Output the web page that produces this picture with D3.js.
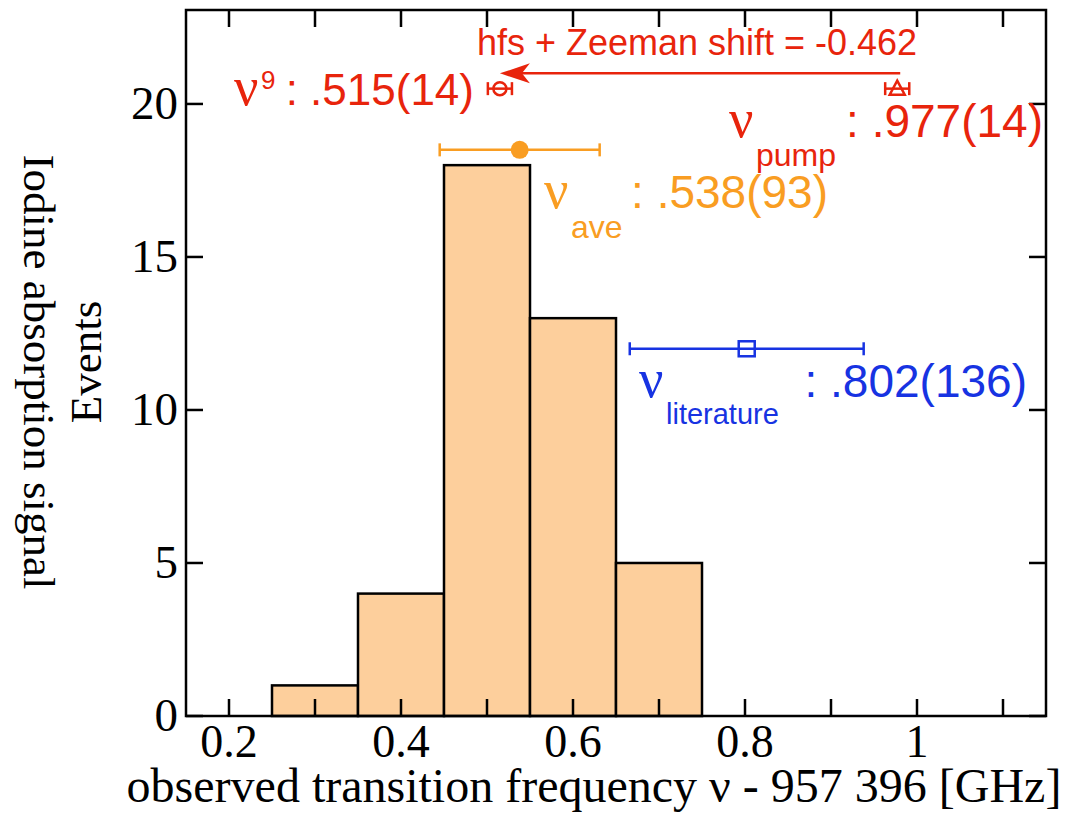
<!DOCTYPE html>
<html>
<head>
<meta charset="utf-8">
<script src="https://cdn.jsdelivr.net/npm/d3@7"></script>
<style>
  body { margin: 0; background: #fff; }
  svg text { font-family: "Liberation Sans", Arial, sans-serif; }
  .serif { font-family: "Liberation Serif", "Times New Roman", serif !important; }
</style>
</head>
<body>
<svg id="chart" width="1072" height="816"></svg>
<script>
// histogram of observed frequencies
var binEdges = [0.25, 0.35, 0.45, 0.55, 0.65, 0.75]
var counts = [1, 4, 18, 13, 5]

// reference points (value, error, drawn height)
var pointNames = ["nu9", "pump", "ave", "literature"]
var pointX = [0.515, 0.977, 0.538, 0.802]
var pointErr = [0.014, 0.014, 0.093, 0.136]
var pointY = [20.5, 20.5, 18.5, 12]

var xTicks = [0.2, 0.3, 0.4, 0.5, 0.6, 0.7, 0.8, 0.9, 1.0, 1.1]
var xTickLabels = ["0.2", "0.4", "0.6", "0.8", "1"]
var xLabelValues = [0.2, 0.4, 0.6, 0.8, 1.0]
var yTicks = [0, 5, 10, 15, 20]

var shiftFrom = 0.977, shiftTo = 0.515, shiftY = 21

var red = "#e8240c", orange = "#f99d22", blue = "#1733e2"

var svg = d3.select("#chart")
// plot box (note: "top" is reserved on window, so use m*)
var mLeft = 186, mRight = 1046, mTop = 10, mBottom = 716

var x = d3.scaleLinear().domain([0.15, 1.15]).range([mLeft, mRight])
var y = d3.scaleLinear().domain([0, 23.07]).range([mBottom, mTop])

// bars
var bins = counts.map(function(c, i) { return {x0: binEdges[i], x1: binEdges[i+1], n: c} })
svg.selectAll("rect.bar")
    .data(bins).enter()
    .append("rect")
        .attr("class", "bar")
        .attr("x", function(d){ return x(d.x0) })
        .attr("y", function(d){ return y(d.n) })
        .attr("width", function(d){ return x(d.x1) - x(d.x0) })
        .attr("height", function(d){ return y(0) - y(d.n) })
        .style("fill", "#fdcf9c")
        .style("stroke", "#000")
        .style("stroke-width", 2.5)

// frame
svg.append("rect")
    .attr("x", mLeft).attr("y", mTop)
    .attr("width", mRight - mLeft).attr("height", mBottom - mTop)
    .style("fill", "none").style("stroke", "#000").style("stroke-width", 2.5)

var tickLen = 17
// x ticks bottom + top (inward)
xTicks.forEach(function(t) {
    svg.append("line").attr("x1", x(t)).attr("x2", x(t)).attr("y1", mBottom).attr("y2", mBottom - tickLen)
        .style("stroke", "#000").style("stroke-width", 2.5)
    svg.append("line").attr("x1", x(t)).attr("x2", x(t)).attr("y1", mTop).attr("y2", mTop + tickLen)
        .style("stroke", "#000").style("stroke-width", 2.5)
})
yTicks.forEach(function(t) {
    svg.append("line").attr("x1", mLeft).attr("x2", mLeft + tickLen).attr("y1", y(t)).attr("y2", y(t))
        .style("stroke", "#000").style("stroke-width", 2.5)
    svg.append("line").attr("x1", mRight).attr("x2", mRight - tickLen).attr("y1", y(t)).attr("y2", y(t))
        .style("stroke", "#000").style("stroke-width", 2.5)
})

svg.selectAll("text.xt")
    .data(xLabelValues).enter()
    .append("text")
        .attr("class", "serif")
        .attr("x", function(d){ return x(d) })
        .attr("y", 757)
        .attr("text-anchor", "middle")
        .style("font-size", "46px")
        .text(function(d, i){ return xTickLabels[i] })

svg.selectAll("text.yt")
    .data(yTicks).enter()
    .append("text")
        .attr("class", "serif")
        .attr("x", 178)
        .attr("y", function(d){ return y(d) + 15 })
        .attr("text-anchor", "end")
        .style("font-size", "47px")
        .text(function(d){ return d })

// axis titles
svg.append("text").attr("class", "serif")
    .attr("x", 594).attr("y", 802).attr("text-anchor", "middle")
    .style("font-size", "48px")
    .text("observed transition frequency \u03bd - 957 396 [GHz]")

svg.append("text").attr("class", "serif")
    .attr("transform", "translate(101,362) rotate(-90)")
    .attr("text-anchor", "middle")
    .style("font-size", "45px")
    .text("Events")

svg.append("text").attr("class", "serif")
    .attr("transform", "translate(24,372) rotate(90)")
    .attr("text-anchor", "middle")
    .style("font-size", "45px")
    .text("Iodine absorption signal")

// error bars
function errBar(i, color, capH) {
    var cy = y(pointY[i])
    var x0 = x(pointX[i] - pointErr[i]), x1 = x(pointX[i] + pointErr[i])
    svg.append("line").attr("x1", x0).attr("x2", x1).attr("y1", cy).attr("y2", cy)
        .style("stroke", color).style("stroke-width", 2.5)
    ;[x0, x1].forEach(function(cx) {
        svg.append("line").attr("x1", cx).attr("x2", cx).attr("y1", cy - capH/2).attr("y2", cy + capH/2)
            .style("stroke", color).style("stroke-width", 2.5)
    })
}

errBar(0, red, 13)
svg.append("circle").attr("cx", x(pointX[0])).attr("cy", y(pointY[0])).attr("r", 6.5)
    .style("fill", "none").style("stroke", red).style("stroke-width", 2.5)

errBar(1, red, 13)
var tx = x(pointX[1]), ty = y(pointY[1])
svg.append("path")
    .attr("d", "M" + tx + "," + (ty - 8) + "L" + (tx + 7.5) + "," + (ty + 6) + "L" + (tx - 7.5) + "," + (ty + 6) + "Z")
    .style("fill", "none").style("stroke", red).style("stroke-width", 2.5)

errBar(2, orange, 13)
svg.append("circle").attr("cx", x(pointX[2])).attr("cy", y(pointY[2])).attr("r", 9)
    .style("fill", orange)

errBar(3, blue, 13)
svg.append("rect").attr("x", x(pointX[3]) - 8).attr("y", y(pointY[3]) - 7.5)
    .attr("width", 16).attr("height", 15)
    .style("fill", "none").style("stroke", blue).style("stroke-width", 2.5)

// shift arrow
var ay = y(shiftY), ax0 = x(shiftFrom) + 3, ax1 = x(shiftTo)
svg.append("line").attr("x1", ax0).attr("x2", ax1 + 20).attr("y1", ay).attr("y2", ay)
    .style("stroke", red).style("stroke-width", 2.5)
svg.append("path")
    .attr("d", "M" + ax1 + "," + ay + "L" + (ax1 + 30) + "," + (ay - 10) + "L" + (ax1 + 22) + "," + ay +
              "L" + (ax1 + 30) + "," + (ay + 10) + "Z")
    .style("fill", red)
svg.append("text").attr("x", 697).attr("y", 55).attr("text-anchor", "middle")
    .style("font-size", "36px").style("fill", red)
    .text("hfs + Zeeman shift = -0.462")

// value labels
function nuLabel(nx, base, sub, subDy, subSize, value, valueEnd, color, size, superscript) {
    svg.append("text").attr("class", "serif").attr("x", nx).attr("y", base)
        .style("font-size", "54px").style("fill", color).text("\u03bd")
    if (superscript) {
        svg.append("text").attr("x", nx + 27).attr("y", base - 16)
            .style("font-size", "26px").style("fill", color).text(sub)
    } else {
        svg.append("text").attr("x", nx + 27).attr("y", base + subDy)
            .style("font-size", subSize + "px").style("fill", color).text(sub)
    }
    svg.append("text").attr("x", valueEnd).attr("y", base).attr("text-anchor", "end")
        .style("font-size", size + "px").style("fill", color).text(value)
}

nuLabel(234, 105, "9", 0, 26, ": .515(14)", 474, red, 44, true)
nuLabel(729, 137, "pump", 29, 32, ": .977(14)", 1043, red, 46, false)
nuLabel(544, 208, "ave", 30, 32, ": .538(93)", 828, orange, 46, false)
nuLabel(639, 397, "literature", 27, 29, ": .802(136)", 1027, blue, 46, false)
</script>
</body>
</html>
